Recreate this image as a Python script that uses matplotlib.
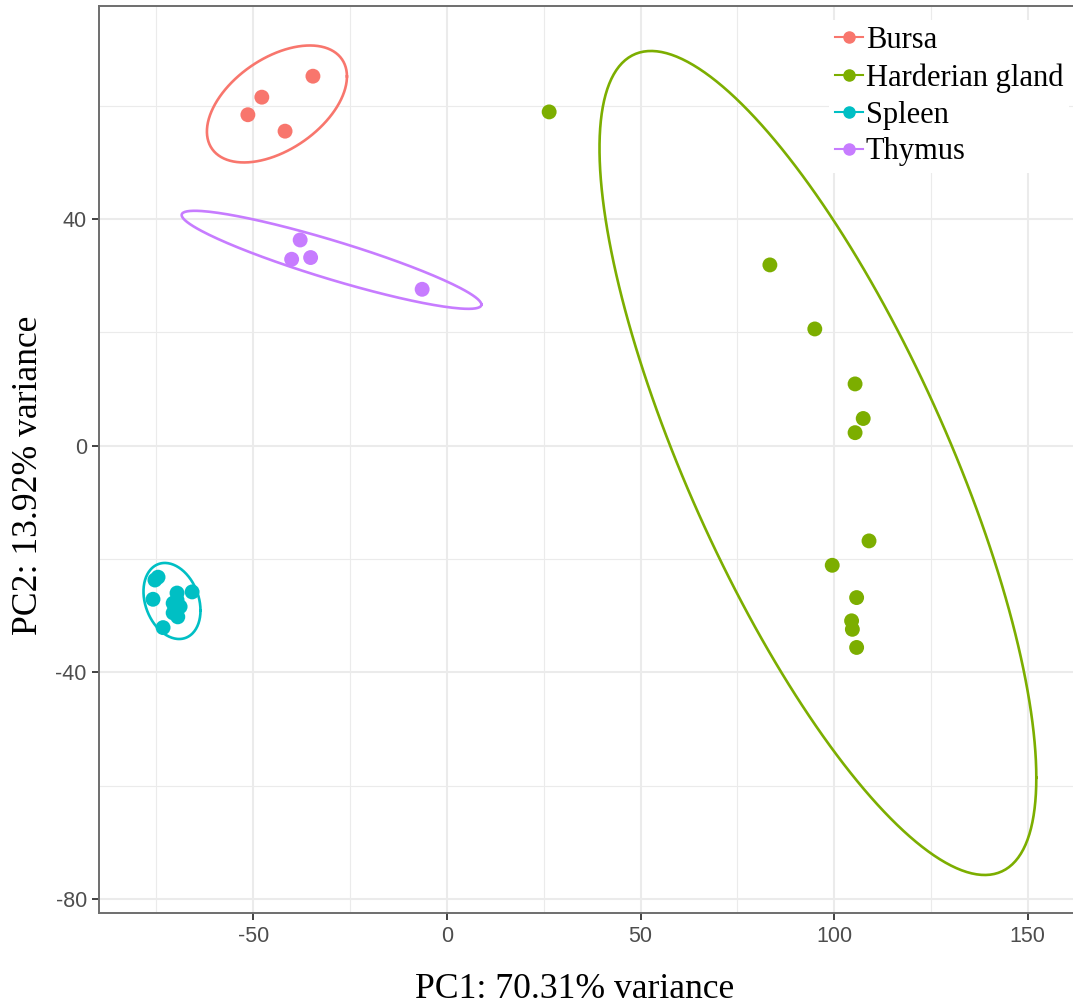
import numpy as np
import matplotlib
matplotlib.use("Agg")
import matplotlib.pyplot as plt
from matplotlib.lines import Line2D

plt.rcParams["axes.unicode_minus"] = False

# PCA scores per tissue
groups = ["Bursa", "Harderian gland", "Spleen", "Thymus"]
colors = ["#F8766D", "#7CAE00", "#00BFC4", "#C77CFF"]

bursa_x = [-51.4, -47.8, -41.8, -34.6]
bursa_y = [58.4, 61.5, 55.5, 65.2]

harderian_x = [26.4, 83.4, 95.0, 105.4, 107.5, 105.4, 109.0, 99.5, 105.8, 104.5, 104.7, 105.8]
harderian_y = [58.9, 31.9, 20.6, 10.9, 4.8, 2.3, -16.8, -21.1, -26.8, -30.9, -32.4, -35.6]

spleen_x = [-75.4, -74.6, -75.9, -65.8, -73.3, -69.7, -69.7, -70.7, -68.9, -70.7, -69.5]
spleen_y = [-23.7, -23.2, -27.1, -25.8, -32.1, -26.0, -27.2, -27.8, -28.4, -29.5, -30.2]

thymus_x = [-37.9, -40.1, -35.2, -6.4]
thymus_y = [36.3, 32.9, 33.2, 27.6]

# confidence ellipses: centre, x/y spread, correlation
ell_cx = [-43.9, 95.8, -71.0, -29.8]
ell_cy = [60.3, -3.05, -27.4, 32.8]
ell_sx = [18.08, 56.4, 7.36, 38.7]
ell_sy = [10.32, 72.7, 6.71, 8.65]
ell_rho = [0.471, -0.764, -0.25, -0.913]

xs = [bursa_x, harderian_x, spleen_x, thymus_x]
ys = [bursa_y, harderian_y, spleen_y, thymus_y]

W, H = 1073, 1007
fig = plt.figure(figsize=(W / 100, H / 100), dpi=100)
ax = fig.add_axes([99.3 / W, (H - 913.3) / H, (1082 - 99.3) / W, (913.3 - 5.7) / H])

t = np.linspace(0, 2 * np.pi, 200)
for i in range(4):
    ex = ell_cx[i] + ell_sx[i] * np.cos(t)
    ey = ell_cy[i] + ell_sy[i] * (ell_rho[i] * np.cos(t) + np.sqrt(1 - ell_rho[i] ** 2) * np.sin(t))
    ax.plot(ex, ey, color=colors[i], lw=1.9, zorder=3)
    ax.scatter(xs[i], ys[i], s=115, color=colors[i], edgecolors="none", zorder=4)

ax.set_xlim(-89.77, 164.0)
ax.set_ylim(-82.51, 77.64)
ax.set_xticks([-50, 0, 50, 100, 150])
ax.set_yticks([-80, -40, 0, 40])
ax.set_xticks([-75, -25, 25, 75, 125], minor=True)
ax.set_yticks([-60, -20, 20, 60], minor=True)
ax.grid(which="major", color="#EBEBEB", lw=1.5, zorder=0)
ax.grid(which="minor", color="#EBEBEB", lw=0.8, zorder=0)
ax.set_axisbelow(True)
ax.tick_params(which="minor", length=0)
ax.tick_params(which="major", length=5, width=1.3, color="#333333",
               labelsize=15.5, labelcolor="#4D4D4D", pad=4)
for lab in ax.get_xticklabels() + ax.get_yticklabels():
    lab.set_fontfamily("Liberation Sans")
for sp in ax.spines.values():
    sp.set_color("#6E6E6E")
    sp.set_linewidth(1.4)

fig.text(575 / W, 1 - 990 / H, "PC1: 70.31% variance", ha="center", va="center",
         fontsize=25.7, family="Liberation Serif")
fig.text(29 / W, 1 - 475 / H, "PC2: 13.92% variance", ha="center", va="center",
         rotation=90, fontsize=25.7, family="Liberation Serif")

handles = [Line2D([0], [0], color=c, lw=1.5, marker="o", markersize=8) for c in colors]
leg = ax.legend(handles, groups, loc="upper left", bbox_to_anchor=(829 / W, 1 - 20 / H),
                bbox_transform=fig.transFigure, frameon=True, fancybox=False,
                handlelength=0.9, handletextpad=0.1, labelspacing=0.26,
                borderpad=0.2, borderaxespad=0, prop={"family": "Liberation Serif", "size": 22})
leg.get_frame().set_edgecolor("none")
leg.get_frame().set_facecolor("white")
leg.get_frame().set_alpha(1)

fig.savefig("out.png", dpi=100)
